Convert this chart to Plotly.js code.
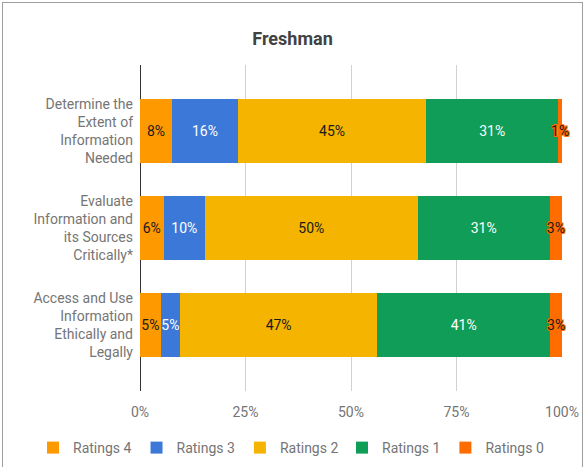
<!DOCTYPE html>
<html>
<head>
<meta charset="utf-8">
<script src="https://cdn.plot.ly/plotly-3.0.1.min.js"></script>
<style>
  html, body { margin: 0; padding: 0; background: #fff; }
  #wrap { position: relative; width: 585px; height: 467px; overflow: hidden; }
  #chart { position: absolute; left: 0; top: 0; width: 585px; height: 467px; }
  #frame { position: absolute; left: 2px; top: 2px; width: 579px; height: 480px; border: 1px solid #9e9e9e; pointer-events: none; }
</style>
</head>
<body>
<div id="wrap"><div id="chart"></div><div id="frame"></div></div>
<script>
const categories = [
  "Determine the<br>Extent of<br>Information<br>Needed",
  "Evaluate<br>Information and<br>its Sources<br>Critically*",
  "Access and Use<br>Information<br>Ethically and<br>Legally"
];
const seriesNames = ["Ratings 4", "Ratings 3", "Ratings 2", "Ratings 1", "Ratings 0"];
const ratings4 = [7.6, 5.6, 4.9];
const ratings3 = [15.6, 9.8, 4.6];
const ratings2 = [44.6, 50.4, 46.7];
const ratings1 = [31.3, 31.3, 41.0];
const ratings0 = [0.9, 2.9, 2.8];
const xTicks = [0, 25, 50, 75, 100];

const seriesValues = [ratings4, ratings3, ratings2, ratings1, ratings0];
const colors = ["#FF9900", "#3C78D8", "#F4B400", "#0F9D58", "#FF6D01"];
const textColors = ["#1a1a1a", "#ffffff", "#1a1a1a", "#ffffff", "#1a1a1a"];
const legendIds = ["legend", "legend", "legend", "legend2", "legend2"];

const traces = seriesValues.map((vals, i) => {
  const tf = { family: "Roboto, sans-serif", size: 14, color: textColors[i] };
  if (i === 4) {
    const c = colors[4];
    tf.shadow = `-1px -1px 0 ${c}, 1px -1px 0 ${c}, -1px 1px 0 ${c}, 1px 1px 0 ${c}, 0 1px 0 ${c}, 0 -1px 0 ${c}, 1px 0 0 ${c}, -1px 0 0 ${c}`;
  }
  return {
    type: "bar",
    orientation: "h",
    name: seriesNames[i],
    legend: legendIds[i],
    y: categories,
    x: vals,
    marker: { color: colors[i], line: { width: 0 } },
    texttemplate: "%{x:.0f}%",
    textposition: "inside",
    insidetextanchor: "middle",
    textangle: 0,
    constraintext: "none",
    cliponaxis: false,
    textfont: tf,
    hoverinfo: "skip"
  };
});

const legendBase = {
  orientation: "h",
  xref: "container", yref: "container",
  xanchor: "left",
  y: 1 - 448 / 467, yanchor: "middle",
  itemgap: 5,
  font: { family: "Roboto, sans-serif", size: 14, color: "#757575" },
  traceorder: "normal",
  bgcolor: "rgba(0,0,0,0)"
};

const layout = {
  width: 585,
  height: 467,
  margin: { l: 140, r: 23, t: 65, b: 76 },
  paper_bgcolor: "#ffffff",
  plot_bgcolor: "#ffffff",
  font: { family: "Roboto, sans-serif", size: 14, color: "#757575" },
  title: {
    text: "<b>Freshman</b>",
    font: { family: "Roboto, sans-serif", size: 18, color: "#424242" },
    x: 0.5, xref: "container", xanchor: "center",
    y: 1 - 39 / 467, yref: "container", yanchor: "middle"
  },
  barmode: "stack",
  bargap: 0.35,
  showlegend: true,
  legend: Object.assign({}, legendBase, { x: 33 / 585 }),
  legend2: Object.assign({}, legendBase, { x: 342 / 585 }),
  xaxis: {
    range: [0, 100],
    tickvals: xTicks,
    ticktext: xTicks.map(v => v + "%"),
    showgrid: true,
    gridcolor: "#d0d0d0",
    gridwidth: 1,
    zeroline: true,
    zerolinecolor: "#333333",
    zerolinewidth: 1,
    showline: false,
    ticks: "",
    ticklabelstandoff: 11,
    fixedrange: true
  },
  yaxis: {
    type: "category",
    categoryorder: "array",
    categoryarray: categories,
    range: [2.68, -0.68],
    showgrid: false,
    zeroline: false,
    showline: false,
    ticks: "",
    ticklabelstandoff: 6,
    fixedrange: true
  }
};

Plotly.newPlot("chart", traces, layout, { displayModeBar: false, staticPlot: true });
</script>
</body>
</html>
